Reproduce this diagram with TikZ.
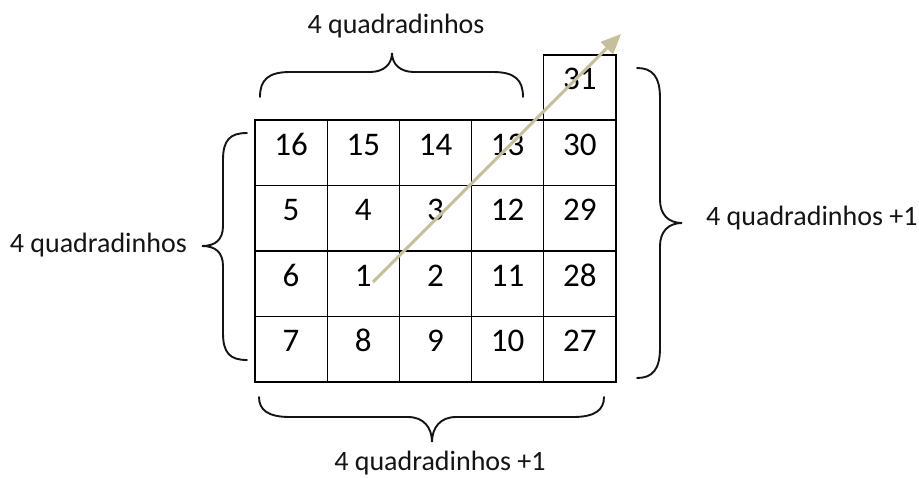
\documentclass[tikz,border=0pt]{standalone}
\usepackage{fontspec}
\setmainfont{Carlito}
\usetikzlibrary{arrows.meta}
\definecolor{tanline}{RGB}{198,191,155}
\definecolor{inkcol}{RGB}{20,20,20}
\tikzset{
  cellbox/.style={draw=black, line width=1.2pt, minimum width=72.2pt, inner sep=0pt,
    text height=35.25pt, text depth=30.25pt, font=\fontsize{33}{36}\selectfont},
  bracepath/.style={draw=inkcol, line width=1.9pt, line cap=round},
  lbl/.style={inner sep=0pt, font=\fontsize{28}{32}\selectfont, text=inkcol},
  arrowline/.style={draw=tanline, line width=2.9pt, -{Triangle[length=20pt,width=17pt]}}
}
\begin{document}
\begin{tikzpicture}[x=1pt,y=-1pt]
\useasboundingbox (0,0) rectangle (919,477);
% grid
\foreach \r/\a/\b/\c/\d/\e [count=\i from 0] in {0/16/15/14/13/30,1/5/4/3/12/29,2/6/1/2/11/28,3/7/8/9/10/27}{
  \foreach \v [count=\j from 0] in {\a,\b,\c,\d,\e}{
    \node[cellbox] (c\i\j) at ({291.1+72.2*\j},{152.75+65.5*\i}) {\v};
  }
}
\node[cellbox, text height=34.75pt, text depth=30.25pt] (c31) at (579.9,87.5) {31};
% arrow
\coordinate (arrowstart) at (373,282);
\coordinate (arrowtip) at (621,34);
\draw[arrowline] (arrowstart) -- (arrowtip);
% braces
\path[bracepath] (260,97) .. controls (260,80) and (268,72) .. (290,72) -- (370,72)
  .. controls (384,72) and (392,64) .. (392,53) .. controls (392,64) and (400,72) .. (414,72)
  -- (493,72) .. controls (515,72) and (523,80) .. (523,97);
\path[bracepath] (259,397) .. controls (259,410) and (268,417) .. (290,417) -- (408,417)
  .. controls (424,417) and (432,428) .. (432,442) .. controls (432,428) and (440,417) .. (456,417)
  -- (573,417) .. controls (595,417) and (604,410) .. (604,397);
\path[bracepath] (247,133) .. controls (230,133) and (223,140) .. (223,160) -- (223,226)
  .. controls (223,240) and (215,246) .. (202,246) .. controls (215,246) and (223,252) .. (223,266)
  -- (223,333) .. controls (223,353) and (230,360) .. (247,360);
\path[bracepath] (637,68) .. controls (652,68) and (660,76) .. (660,98) -- (660,200)
  .. controls (660,214) and (668,223) .. (682,223) .. controls (668,223) and (660,232) .. (660,246)
  -- (660,348) .. controls (660,370) and (652,378) .. (637,378);
% labels
\node[lbl, anchor=base] (ltop) at (396,33) {4 quadradinhos};
\node[lbl, anchor=base east] (lleft) at (187,252) {4 quadradinhos};
\node[lbl, anchor=base west] (lright) at (706,225) {4 quadradinhos +1};
\node[lbl, anchor=base] (lbottom) at (440,470) {4 quadradinhos +1};
\end{tikzpicture}
\end{document}
